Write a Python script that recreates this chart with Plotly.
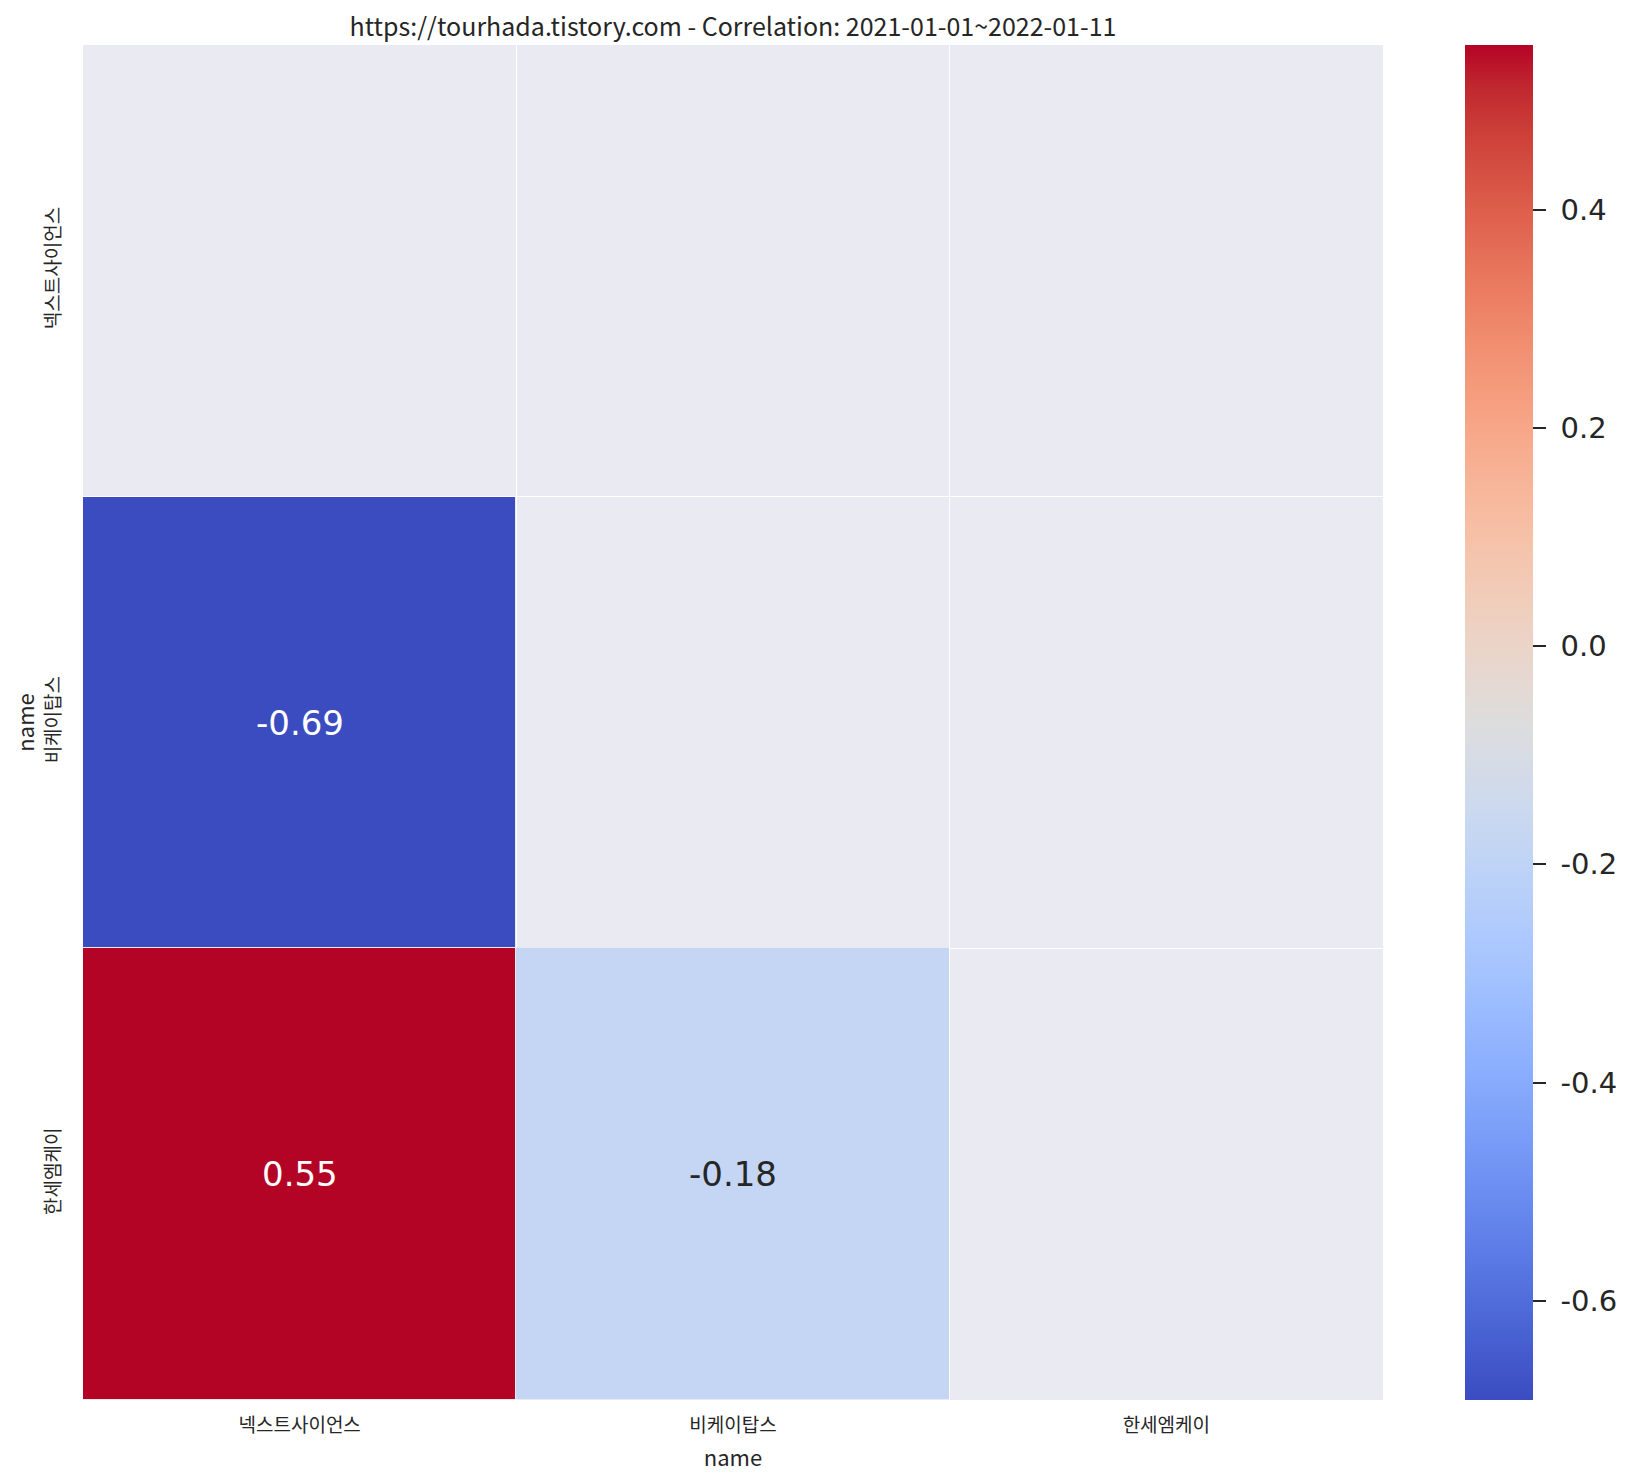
import plotly.graph_objects as go

# ---- data ----
names = ["넥스트사이언스", "비케이탑스", "한세엠케이"]
# lower-triangle correlations (upper triangle incl. diagonal masked -> None)
row_0 = [None, None, None]
row_1 = [-0.691, None, None]
row_2 = [0.551, -0.18, None]
cbar_ticks = [-0.6, -0.4, -0.2, 0.0, 0.2, 0.4]
cbar_ticktext = ["-0.6", "-0.4", "-0.2", "0.0", "0.2", "0.4"]
title_text = "https://tourhada.tistory.com - Correlation: 2021-01-01~2022-01-11"

z = [row_0, row_1, row_2]
n = len(names)
idx = list(range(n))

# matplotlib 'coolwarm' (Moreland) colour table
cw = [
    (59, 76, 192), (68, 90, 204), (77, 104, 215), (87, 117, 225), (98, 130, 234),
    (108, 142, 241), (119, 154, 247), (130, 165, 251), (141, 176, 254), (152, 185, 255),
    (163, 194, 255), (174, 201, 253), (184, 208, 249), (194, 213, 244), (204, 217, 238),
    (213, 219, 230), (221, 221, 221), (229, 216, 209), (236, 211, 197), (241, 204, 185),
    (245, 196, 173), (247, 187, 160), (247, 177, 148), (247, 166, 135), (244, 154, 123),
    (241, 141, 111), (236, 127, 99), (229, 112, 88), (222, 96, 77), (213, 80, 66),
    (203, 62, 56), (192, 40, 47), (180, 4, 38),
]
m = len(cw) - 1
colorscale = [[i / m, "rgb(%d,%d,%d)" % c] for i, c in enumerate(cw)]

vals = [v for r in z for v in r if v is not None]
zmin, zmax = min(vals), max(vals)


def color_at(v):
    t = (v - zmin) / (zmax - zmin)
    p = t * m
    i = min(int(p), m - 1)
    f = p - i
    return tuple(cw[i][k] + (cw[i + 1][k] - cw[i][k]) * f for k in range(3))


def lum(c):
    def ch(x):
        x = x / 255
        return x / 12.92 if x <= 0.03928 else ((x + 0.055) / 1.055) ** 2.4
    r, g, b = (ch(x) for x in c)
    return 0.2126 * r + 0.7152 * g + 0.0722 * b


# page has an 8px body margin -> figure is offset by (8, 8)
W, H = 1625, 1475
ML, MT, MR, MB = 75, 37, 250, 83
plot_w = W - ML - MR

fig = go.Figure()
fig.add_trace(go.Heatmap(
    z=z, x=idx, y=idx,
    colorscale=colorscale, zmin=zmin, zmax=zmax,
    xgap=1, ygap=1, hoverongaps=False,
    colorbar=dict(
        x=(1457 - ML) / plot_w, xanchor="left", xpad=0,
        y=0.5, yanchor="middle", len=1, lenmode="fraction", ypad=0,
        thickness=68, outlinewidth=0,
        tickvals=cbar_ticks, ticktext=["\u00a0" + t for t in cbar_ticktext],
        ticks="outside", ticklen=13, tickwidth=2, tickcolor="#262626",
        tickfont=dict(family="DejaVu Sans", size=29, color="#262626"),
    ),
))

for yi, row in enumerate(z):
    for xi, v in enumerate(row):
        if v is None:
            continue
        col = "white" if lum(color_at(v)) < 0.408 else "#262626"
        fig.add_annotation(x=xi, y=yi, text=f"{v:.2f}", showarrow=False,
                           font=dict(family="DejaVu Sans", size=34, color=col))

axis_common = dict(
    range=[-0.5, n - 0.5], tickvals=idx, ticktext=names,
    showgrid=False, zeroline=False, showline=False,
    ticks="", tickfont=dict(family="Noto Sans CJK KR", size=19, color="#262626"),
    minor=dict(tickvals=[i + 0.5 for i in range(n - 1)], showgrid=True,
               gridcolor="white", gridwidth=1, ticks=""),
    title=dict(text="name", font=dict(family="Noto Sans CJK KR", size=22, color="#262626")),
)

fig.update_layout(
    width=W, height=H,
    margin=dict(l=ML, r=MR, t=MT, b=MB),
    paper_bgcolor="white", plot_bgcolor="#EAEAF2",
    title=dict(text=title_text, x=(ML + plot_w / 2) / W, xanchor="center",
               y=1 - 19 / H, yanchor="middle", yref="container",
               font=dict(family="Noto Sans CJK KR", size=25, color="#262626")),
    xaxis=dict(**axis_common, ticklabelstandoff=12),
    yaxis=dict(**{**axis_common, "range": [n - 0.5, -0.5]}, tickangle=-90,
               ticklabelstandoff=18),
    showlegend=False,
)
fig.update_xaxes(title_standoff=14)
fig.update_yaxes(title_standoff=2)

fig.write_html("out.html")
